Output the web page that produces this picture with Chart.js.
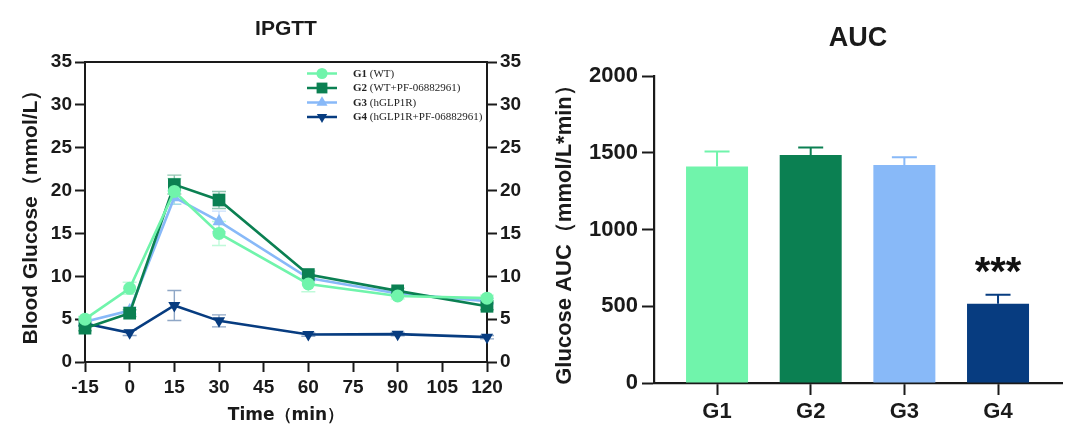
<!DOCTYPE html>
<html>
<head>
<meta charset="utf-8">
<script src="https://cdn.jsdelivr.net/npm/chart.js@4.4.1/dist/chart.umd.min.js"></script>
<style>
html,body{margin:0;padding:0;background:#ffffff;}
#wrap{position:relative;width:1080px;height:436px;overflow:hidden;}
.box{position:absolute;top:0;width:540px;height:436px;}
</style>
</head>
<body>
<div id="wrap">
  <div class="box" style="left:0"><canvas id="c1" width="540" height="436"></canvas></div>
  <div class="box" style="left:540px"><canvas id="c2" width="540" height="436"></canvas></div>
</div>
<script>
// ---------------- data ----------------
const timePoints = [-15, 0, 15, 30, 60, 90, 120];
const timeTicks = [-15, 0, 15, 30, 45, 60, 75, 90, 105, 120];
const glucoseTicks = [0, 5, 10, 15, 20, 25, 30, 35];
const groupNames = ['G1', 'G2', 'G3', 'G4'];
const groupNotes = ['(WT)', '(WT+PF-06882961)', '(hGLP1R)', '(hGLP1R+PF-06882961)'];

const g1Glucose = [5.0, 8.6, 19.9, 15.0, 9.1, 7.7, 7.45];
const g1Err     = [0.3, 0.7, 1.5, 1.4, 0.9, 0.35, 0.35];
const g2Glucose = [3.95, 5.7, 20.7, 18.9, 10.2, 8.3, 6.5];
const g2Err     = [0.3, 0.4, 1.1, 1.0, 0.4, 0.3, 0.4];
const g3Glucose = [4.7, 6.0, 19.2, 16.4, 9.8, 8.0, 7.1];
const g3Err     = [0.3, 0.4, 0.8, 1.2, 0.4, 0.3, 0.3];
const g4Glucose = [4.5, 3.4, 6.6, 4.8, 3.2, 3.25, 2.9];
const g4Err     = [0.3, 0.3, 1.75, 0.7, 0.2, 0.2, 0.2];

const aucCategories = ['G1', 'G2', 'G3', 'G4'];
const aucValues = [1410, 1486, 1421, 516];
const aucErrors = [98, 48, 50, 59];
const aucTicks = [0, 500, 1000, 1500, 2000];
const aucSignificance = ['', '', '', '***'];

// ---------------- styles ----------------
const colors = ['#70F4AB', '#0B8052', '#88B9F8', '#073C80'];
const pointStyles = ['circle', 'rect', 'triangle', 'triangle'];
const pointRotations = [0, 0, 0, 180];
const pointRadii = [6.5, 9, 7.5, 7];
const ink = '#1a1a1a';
const SANS = "'Liberation Sans', Arial, sans-serif";

Chart.defaults.font.family = SANS;
Chart.defaults.color = ink;

function rgba(hex, a) {
  const n = parseInt(hex.slice(1), 16);
  return `rgba(${(n >> 16) & 255},${(n >> 8) & 255},${n & 255},${a})`;
}

const glucoseSeries = [g1Glucose, g2Glucose, g3Glucose, g4Glucose];
const glucoseErrors = [g1Err, g2Err, g3Err, g4Err];

// ---------------- plugins ----------------
const lineErrorPlugin = {
  id: 'lineErrors',
  beforeDatasetsDraw(chart) {
    const ctx = chart.ctx;
    const ys = chart.scales.y;
    chart.data.datasets.forEach((ds, di) => {
      const meta = chart.getDatasetMeta(di);
      ctx.save();
      ctx.strokeStyle = rgba(ds.borderColor, 0.45);
      ctx.lineWidth = 1.4;
      ds.errorBars.forEach((e, i) => {
        const el = meta.data[i];
        const v = ds.data[i].y;
        const yt = ys.getPixelForValue(v + e);
        const yb = ys.getPixelForValue(v - e);
        const x = el.x;
        ctx.beginPath();
        ctx.moveTo(x, yt); ctx.lineTo(x, yb);
        ctx.moveTo(x - 7, yt); ctx.lineTo(x + 7, yt);
        ctx.moveTo(x - 7, yb); ctx.lineTo(x + 7, yb);
        ctx.stroke();
      });
      ctx.restore();
    });
  }
};

const legendPlugin = {
  id: 'seriesLegend',
  afterDraw(chart) {
    const {ctx, chartArea} = chart;
    const x0 = chartArea.right - 180;
    const lineLen = 30;
    const textX = x0 + 46;
    chart.data.datasets.forEach((ds, i) => {
      const y = chartArea.top + 11.5 + i * 14.5;
      ctx.save();
      ctx.strokeStyle = ds.borderColor;
      ctx.lineWidth = 2.5;
      ctx.beginPath();
      ctx.moveTo(x0, y); ctx.lineTo(x0 + lineLen, y);
      ctx.stroke();
      ctx.fillStyle = ds.pointBackgroundColor;
      Chart.helpers.drawPoint(ctx, {
        pointStyle: ds.pointStyle,
        rotation: ds.pointRotation || 0,
        radius: ds.pointRadius * 0.85,
        borderWidth: 0
      }, x0 + lineLen / 2, y);
      ctx.fillStyle = '#222';
      ctx.textBaseline = 'middle';
      ctx.textAlign = 'left';
      ctx.font = "bold 11px 'Liberation Serif', 'Times New Roman', serif";
      ctx.fillText(groupNames[i], textX, y + 0.5);
      const w = ctx.measureText(groupNames[i]).width;
      ctx.font = "11px 'Liberation Serif', 'Times New Roman', serif";
      ctx.fillText(' ' + groupNotes[i], textX + w, y + 0.5);
      ctx.restore();
    });
  }
};

const barErrorPlugin = {
  id: 'barErrors',
  afterDatasetsDraw(chart) {
    const ctx = chart.ctx;
    const ys = chart.scales.y;
    const xs = chart.scales.x;
    const ds = chart.data.datasets[0];
    const meta = chart.getDatasetMeta(0);
    ds.errorBars.forEach((e, i) => {
      const el = meta.data[i];
      const v = ds.data[i].y;
      const yTop = ys.getPixelForValue(v + e);
      const yBar = ys.getPixelForValue(v);
      ctx.save();
      ctx.strokeStyle = ds.backgroundColor[i];
      ctx.lineWidth = 2;
      ctx.beginPath();
      ctx.moveTo(el.x, yBar); ctx.lineTo(el.x, yTop);
      ctx.moveTo(el.x - 12.5, yTop); ctx.lineTo(el.x + 12.5, yTop);
      ctx.stroke();
      if (aucSignificance[i]) {
        ctx.fillStyle = '#111';
        ctx.font = 'bold 40px ' + SANS;
        ctx.textAlign = 'center';
        ctx.textBaseline = 'alphabetic';
        ctx.fillText(aucSignificance[i], xs.getPixelForValue(i + 1), yTop - 10);
      }
      ctx.restore();
    });
  }
};

// ---------------- left chart: IPGTT ----------------
const tickFontL = {family: SANS, size: 19, weight: 'bold'};
const tickGridL = {display: true, drawOnChartArea: false, drawTicks: true, tickLength: 10, tickColor: ink, tickWidth: 2};
const borderL = {display: true, color: ink, width: 2};
const plainNum = v => String(v);

new Chart(document.getElementById('c1'), {
  type: 'line',
  data: {
    datasets: glucoseSeries.map((vals, i) => ({
      label: groupNames[i] + ' ' + groupNotes[i],
      data: timePoints.map((t, j) => ({x: t, y: vals[j]})),
      errorBars: glucoseErrors[i],
      borderColor: colors[i],
      backgroundColor: colors[i],
      pointBackgroundColor: colors[i],
      pointBorderColor: colors[i],
      pointBorderWidth: 0,
      borderWidth: 2.6,
      pointStyle: pointStyles[i],
      pointRotation: pointRotations[i],
      pointRadius: pointRadii[i],
      tension: 0,
      fill: false,
      clip: false
    }))
  },
  options: {
    responsive: false,
    animation: false,
    layout: {padding: 0},
    plugins: {legend: {display: false}, title: {display: false}, tooltip: {enabled: false}},
    scales: {
      x: {
        type: 'linear', position: 'bottom', min: -15, max: 120,
        afterBuildTicks: s => { s.ticks = timeTicks.map(v => ({value: v})); },
        ticks: {font: tickFontL, color: ink, padding: 4, maxRotation: 0, autoSkip: false, callback: plainNum},
        grid: tickGridL, border: borderL,
        title: {display: true, text: 'Time（min）', color: ink,
                font: {family: "'DejaVu Sans', " + SANS, size: 17, weight: 'bold'},
                padding: {top: 0, bottom: 10}},
        afterFit: s => { s.height = 74; }
      },
      xTop: {
        type: 'linear', position: 'top', axis: 'x', min: -15, max: 120,
        ticks: {display: false}, grid: {display: false}, border: borderL,
        title: {display: true, text: 'IPGTT', color: ink,
                font: {family: SANS, size: 21, weight: 'bold'}, padding: {top: 17, bottom: 0}},
        afterFit: s => { s.height = 62; }
      },
      y: {
        type: 'linear', position: 'left', min: 0, max: 35,
        afterBuildTicks: s => { s.ticks = glucoseTicks.map(v => ({value: v})); },
        ticks: {font: tickFontL, color: ink, padding: 3, callback: plainNum},
        grid: tickGridL, border: borderL,
        title: {display: true, text: 'Blood Glucose（mmol/L）', color: ink,
                font: {family: SANS, size: 21, weight: 'bold'}, padding: {top: 19, bottom: 0}},
        afterFit: s => { s.width = 85; }
      },
      y2: {
        type: 'linear', position: 'right', axis: 'y', min: 0, max: 35,
        afterBuildTicks: s => { s.ticks = glucoseTicks.map(v => ({value: v})); },
        ticks: {font: tickFontL, color: ink, padding: 3, callback: plainNum},
        grid: tickGridL, border: borderL,
        afterFit: s => { s.width = 53; }
      }
    }
  },
  plugins: [lineErrorPlugin, legendPlugin]
});

// ---------------- right chart: AUC ----------------
const tickFontR = {family: SANS, size: 22, weight: 'bold'};

new Chart(document.getElementById('c2'), {
  type: 'bar',
  data: {
    datasets: [{
      label: 'AUC',
      data: aucValues.map((v, i) => ({x: i + 1, y: v})),
      errorBars: aucErrors,
      backgroundColor: colors.slice(),
      borderWidth: 0,
      barPercentage: 0.662,
      categoryPercentage: 1.0
    }]
  },
  options: {
    responsive: false,
    animation: false,
    layout: {padding: {right: 18, left: 0, top: 0, bottom: 0}},
    plugins: {legend: {display: false}, title: {display: false}, tooltip: {enabled: false}},
    scales: {
      x: {
        type: 'linear', position: 'bottom', min: 0.327, max: 4.683, offset: false,
        afterBuildTicks: s => { s.ticks = aucCategories.map((c, i) => ({value: i + 1})); },
        ticks: {font: tickFontR, color: ink, padding: 4, autoSkip: false, maxRotation: 0,
                callback: v => aucCategories[Math.round(v) - 1]},
        grid: {display: true, offset: false, drawOnChartArea: false, drawTicks: true, tickLength: 12, tickColor: ink, tickWidth: 2},
        border: {display: true, color: ink, width: 2.2},
        afterFit: s => { s.height = 53; }
      },
      xTop: {
        type: 'linear', position: 'top', axis: 'x', min: 0.327, max: 4.683,
        ticks: {display: false}, grid: {display: false}, border: {display: false},
        title: {display: true, text: 'AUC', color: ink,
                font: {family: SANS, size: 27, weight: 'bold'}, padding: {top: 22, bottom: 0}},
        afterFit: s => { s.height = 76; }
      },
      y: {
        type: 'linear', position: 'left', min: 0, max: 2000,
        afterBuildTicks: s => { s.ticks = aucTicks.map(v => ({value: v})); },
        ticks: {font: tickFontR, color: ink, padding: 4, callback: plainNum},
        grid: {display: true, drawOnChartArea: false, drawTicks: true, tickLength: 12, tickColor: ink, tickWidth: 2},
        border: {display: true, color: ink, width: 2.2},
        title: {display: true, text: 'Glucose AUC（mmol/L*min）', color: ink,
                font: {family: SANS, size: 22, weight: 'bold'}, padding: {top: 12, bottom: 0}},
        afterFit: s => { s.width = 114; }
      }
    }
  },
  plugins: [barErrorPlugin]
});
</script>
</body>
</html>
